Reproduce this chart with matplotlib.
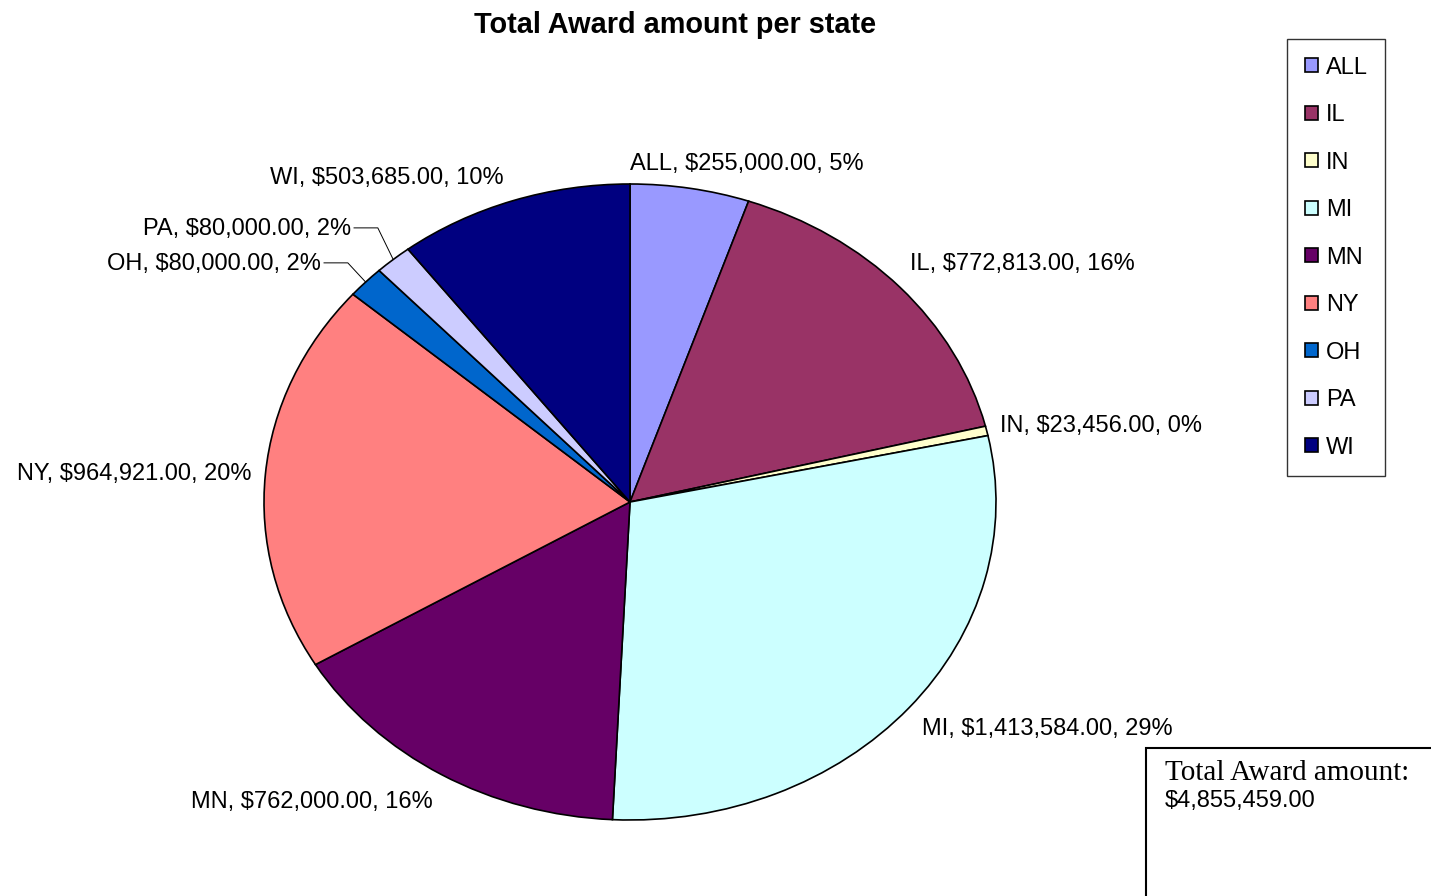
import numpy as np
import matplotlib
matplotlib.use("Agg")
import matplotlib.pyplot as plt
from matplotlib.patches import Rectangle

states = ['ALL', 'IL', 'IN', 'MI', 'MN', 'NY', 'OH', 'PA', 'WI']
awards = [255000.00, 772813.00, 23456.00, 1413584.00, 762000.00,
          964921.00, 80000.00, 80000.00, 503685.00]
colors = ['#9999FF', '#993366', '#FFFFCC', '#CCFFFF', '#660066',
          '#FF8080', '#0066CC', '#CCCCFF', '#000080']

# label anchor (x, y, ha) in pie units
label_pos = {
    'ALL': (0.0, 1.064, 'left'),
    'IL': (0.765, 0.747, 'left'),
    'IN': (1.011, 0.24, 'left'),
    'MI': (0.798, -0.713, 'left'),
    'MN': (-0.538, -0.942, 'right'),
    'NY': (-1.033, 0.089, 'right'),
    'OH': (-0.844, 0.747, 'right'),
    'PA': (-0.762, 0.857, 'right'),
    'WI': (-0.344, 1.02, 'right'),
}
leaders = ['OH', 'PA']

plt.rcParams['font.family'] = ['Liberation Sans', 'DejaVu Sans']

W, H = 1431, 896
fig = plt.figure(figsize=(W / 100, H / 100), dpi=100)

# pie centre (630, 502) px, radii 366 x 318 px
cx, cy, rx, ry = 630, 502, 366, 318
pad = 1.1
ax = fig.add_axes([(cx - rx * pad) / W, (H - cy - ry * pad) / H,
                   2 * rx * pad / W, 2 * ry * pad / H])

wedges, _ = ax.pie(awards, colors=colors, startangle=90, counterclock=False,
                   wedgeprops=dict(edgecolor='black', linewidth=1.2))
ax.set_aspect('auto')
ax.set_xlim(-pad, pad)
ax.set_ylim(-pad, pad)
ax.axis('off')

total = sum(awards)
for st, val, w in zip(states, awards, wedges):
    x, y, ha = label_pos[st]
    txt = f"{st}, ${val:,.2f}, {val / total:.0%}"
    ax.text(x, y, txt, ha=ha, va='center', fontsize=17)
    if st in leaders:
        mid = np.deg2rad((w.theta1 + w.theta2) / 2)
        px, py = np.cos(mid), np.sin(mid)
        x0 = x + 0.008
        x1 = x0 + 0.065
        ax.plot([x0, x1, px], [y + 0.005, y + 0.005, py], color='black',
                linewidth=0.7)

fig.text(675 / W, 1 - 25 / H, 'Total Award amount per state', ha='center',
         va='center', fontsize=20.8, fontweight='bold')

leg = fig.legend(wedges, states, loc='upper left',
                 bbox_to_anchor=(1287 / W, 1 - 39 / H), borderaxespad=0,
                 fontsize=17, frameon=True, fancybox=False, edgecolor='black',
                 handlelength=0.55, handleheight=0.55, handletextpad=0.34,
                 labelspacing=1.08, borderpad=0.75)
leg.get_frame().set_linewidth(1.0)

# total box in lower right
fig.patches.append(Rectangle((1146 / W, -0.05), 0.3, (0.05 + 1 - 748 / H),
                             transform=fig.transFigure, fill=False,
                             edgecolor='black', linewidth=1.5))
fig.text(1165 / W, 1 - 773 / H, 'Total Award amount:', ha='left', va='center',
         fontsize=21, family='Liberation Serif')
fig.text(1165 / W, 1 - 801 / H, f"${total:,.2f}", ha='left', va='center',
         fontsize=17)

fig.savefig('out.png', dpi=100)
